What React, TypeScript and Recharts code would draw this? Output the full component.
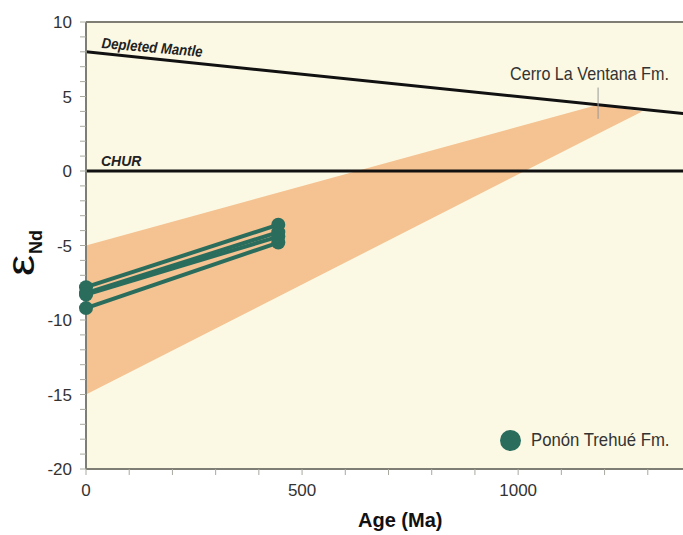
import {
  ComposedChart,
  Line,
  Area,
  XAxis,
  YAxis,
  CartesianGrid,
  ReferenceLine,
} from "recharts";

// axis ticks (labels only on the major ones)
const ageTicks = [0, 100, 200, 300, 400, 500, 600, 700, 800, 900, 1000, 1100, 1200, 1300, 1400];
const ageLabels = [0, 500, 1000];
const epsTicks = [
  -20, -19, -18, -17, -16, -15, -14, -13, -12, -11, -10, -9, -8, -7, -6, -5, -4, -3, -2, -1,
  0, 1, 2, 3, 4, 5, 6, 7, 8, 9, 10,
];
const epsLabels = [-20, -15, -10, -5, 0, 5, 10];

// reference curves
const dmAges = [0, 1400];
const dmEps = [8, 3.8];
const churAges = [0, 1400];
const churEps = [0, 0];

// Cerro La Ventana Fm. field
const bandAges = [0, 1185, 1287];
const bandLow = [-15, 2.5, 4.0];
const bandHigh = [-5, 4.45, 4.0];

// Ponón Trehué Fm. samples: initial value vs. value at crystallization age
const sampleAges = [0, 445];
const sampleAtZero = [-7.8, -8.2, -8.3, -9.2];
const sampleAtAge = [-3.6, -4.1, -4.4, -4.8];

const CREAM = "#fbf9e4";
const BAND = "#f5c291";
const GREEN = "#2b6d5d";
const AXIS = "#7e7e74";
const FONT = "'Liberation Sans', Arial, sans-serif";

const dmData = dmAges.map((age, i) => ({ age, eps: dmEps[i] }));
const churData = churAges.map((age, i) => ({ age, eps: churEps[i] }));
const bandData = bandAges.map((age, i) => ({ age, range: [bandLow[i], bandHigh[i]] }));
const samples = sampleAtZero.map((v, i) => [
  { age: sampleAges[0], eps: v },
  { age: sampleAges[1], eps: sampleAtAge[i] },
]);

function XTick({ x, y, payload }: any) {
  if (!ageLabels.includes(payload.value)) return null;
  return (
    <text x={x} y={y} dy="0.71em" textAnchor="middle" fontSize={17} fill="#333" fontFamily={FONT}>
      {payload.value}
    </text>
  );
}

function YTick({ x, y, payload }: any) {
  if (!epsLabels.includes(payload.value)) return null;
  return (
    <text x={x} y={y} dy="0.36em" textAnchor="end" fontSize={17} fill="#333" fontFamily={FONT}>
      {payload.value}
    </text>
  );
}

export default function App() {
  return (
    <div
      style={{
        position: "absolute",
        left: 0,
        top: 0,
        width: 683,
        height: 535,
        overflow: "hidden",
        background: "#fff",
        fontFamily: FONT,
      }}
    >
      <ComposedChart width={700} height={535} margin={{ top: 22, right: 9, left: 0, bottom: 0 }}>
        <CartesianGrid fill={CREAM} stroke="none" horizontal={false} vertical={false} />
        <XAxis
          dataKey="age"
          type="number"
          domain={[0, 1400]}
          ticks={ageTicks}
          interval={0}
          height={66}
          tick={<XTick />}
          tickSize={6}
          tickMargin={9}
          tickLine={{ stroke: "#a9a9a0" }}
          axisLine={{ stroke: AXIS, strokeWidth: 2 }}
          allowDataOverflow
        />
        <YAxis
          type="number"
          domain={[-20, 10]}
          ticks={epsTicks}
          interval={0}
          width={86}
          tick={<YTick />}
          tickSize={6}
          tickMargin={8}
          tickLine={{ stroke: "#a9a9a0" }}
          axisLine={{ stroke: AXIS, strokeWidth: 2 }}
          allowDataOverflow
        />
        <ReferenceLine y={10} stroke={AXIS} strokeWidth={2} />
        <Area
          data={bandData}
          dataKey="range"
          type="linear"
          stroke="none"
          fill={BAND}
          fillOpacity={1}
          isAnimationActive={false}
        />
        <Line data={dmData} dataKey="eps" type="linear" stroke="#111" strokeWidth={3} dot={false} isAnimationActive={false} />
        <Line data={churData} dataKey="eps" type="linear" stroke="#111" strokeWidth={3} dot={false} isAnimationActive={false} />
        <ReferenceLine
          segment={[
            { x: 1185, y: 3.5 },
            { x: 1185, y: 5.6 },
          ]}
          stroke="#999"
          strokeWidth={1}
        />
        {samples.map((d, i) => (
          <Line
            key={i}
            data={d}
            dataKey="eps"
            type="linear"
            stroke={GREEN}
            strokeWidth={4}
            dot={{ r: 7, fill: GREEN, stroke: GREEN, strokeWidth: 0, clipDot: false }}
            isAnimationActive={false}
          />
        ))}
      </ComposedChart>

      {/* annotations */}
      <div
        style={{
          position: "absolute",
          left: 101,
          top: 34,
          fontSize: 15,
          fontWeight: "bold",
          fontStyle: "italic",
          color: "#222",
          transform: "rotate(5deg) scaleX(0.88)",
          transformOrigin: "left bottom",
          whiteSpace: "nowrap",
        }}
      >
        Depleted Mantle
      </div>
      <div
        style={{
          position: "absolute",
          left: 101,
          top: 153,
          fontSize: 14,
          fontWeight: "bold",
          fontStyle: "italic",
          color: "#222",
        }}
      >
        CHUR
      </div>
      <div
        style={{
          position: "absolute",
          left: 510,
          top: 63,
          fontSize: 19,
          color: "#333",
          whiteSpace: "nowrap",
          transform: "scaleX(0.85)",
          transformOrigin: "left center",
        }}
      >
        Cerro La Ventana Fm.
      </div>

      {/* legend */}
      <div style={{ position: "absolute", left: 500, top: 429, display: "flex", alignItems: "center" }}>
        <span style={{ width: 21, height: 21, borderRadius: "50%", background: GREEN, display: "inline-block" }} />
        <span
          style={{
            marginLeft: 10,
            fontSize: 19,
            color: "#333",
            whiteSpace: "nowrap",
            display: "inline-block",
            transform: "scaleX(0.88)",
            transformOrigin: "left center",
          }}
        >
          Ponón Trehué Fm.
        </span>
      </div>

      {/* axis titles */}
      <div
        style={{
          position: "absolute",
          left: 358,
          top: 509,
          fontSize: 20,
          fontWeight: "bold",
          color: "#111",
          whiteSpace: "nowrap",
        }}
      >
        Age (Ma)
      </div>
      <div
        style={{
          position: "absolute",
          left: 21,
          top: 252,
          transform: "translate(-50%, -50%) rotate(-90deg)",
          whiteSpace: "nowrap",
          color: "#111",
          lineHeight: 1,
        }}
      >
        <span style={{ fontSize: 38, display: "inline-block", transform: "scaleX(1.25)" }}>ε</span>
        <span style={{ fontSize: 18, fontWeight: "bold", position: "relative", top: 8, marginLeft: 3 }}>Nd</span>
      </div>
    </div>
  );
}
